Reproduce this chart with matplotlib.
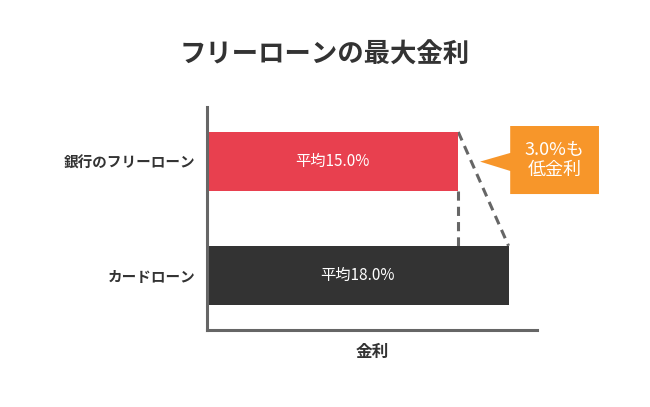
import matplotlib.pyplot as plt
from matplotlib.patches import Polygon

plt.rcParams['font.family'] = ['Noto Sans CJK JP', 'DejaVu Sans']

categories = ["カードローン", "銀行のフリーローン"]
rates = [18.0, 15.0]
bar_labels = ["平均18.0%", "平均15.0%"]
bar_colors = ["#333333", "#E8404F"]
callout_text = "3.0%も\n低金利"

BAR_H = 0.52


def main():
    fig = plt.figure(figsize=(6.5, 4.07), dpi=100)
    ax = fig.add_axes([207 / 650, 77 / 407, 330 / 650, 223 / 407])

    ypos = list(range(len(categories)))
    ax.barh(ypos, rates, height=BAR_H, color=bar_colors, zorder=2)
    for y, r, lab in zip(ypos, rates, bar_labels):
        ax.text(r / 2, y, lab, color="white", fontsize=11,
                ha="center", va="center", zorder=3)

    ax.set_xlim(0, 19.7)
    ax.set_ylim(-0.48, 1.48)
    ax.set_yticks(ypos)
    ax.set_yticklabels(categories, fontsize=10.5, fontweight="bold", color="#333333")
    ax.tick_params(axis="y", length=0, pad=8.5)
    ax.set_xticks([])
    ax.set_xlabel("金利", fontsize=12, fontweight="bold", color="#333333", labelpad=9)

    for side in ("top", "right"):
        ax.spines[side].set_visible(False)
    for side in ("left", "bottom"):
        ax.spines[side].set_color("#666666")
        ax.spines[side].set_linewidth(2.2)

    # dashed guide lines showing the gap between the two rates
    lo, hi = rates[1], rates[0]
    dash = dict(color="#666666", lw=2.2, linestyle=(0, (3, 2)), zorder=1,
                clip_on=False)
    ax.plot([lo, lo], [ypos[0] + BAR_H / 2, ypos[1] - BAR_H / 2], **dash)
    ax.plot([lo, hi], [ypos[1] + BAR_H / 2, ypos[0] + BAR_H / 2], **dash)

    # orange callout
    box = [(16.3, 1.0), (18.1, 1.076), (18.1, 1.313), (23.4, 1.313),
           (23.4, 0.715), (18.1, 0.715), (18.1, 0.918)]
    ax.add_patch(Polygon(box, closed=True, facecolor="#F7962A",
                         edgecolor="none", clip_on=False, zorder=4))
    ax.text(20.75, 1.014, callout_text, color="white", fontsize=13,
            ha="center", va="center", linespacing=1.15, zorder=5)

    fig.text(0.5, 1 - 55 / 407, "フリーローンの最大金利", fontsize=19,
             fontweight="bold", color="#333333", ha="center", va="center")

    fig.savefig("out.png", dpi=100, facecolor="white")


if __name__ == "__main__":
    main()
